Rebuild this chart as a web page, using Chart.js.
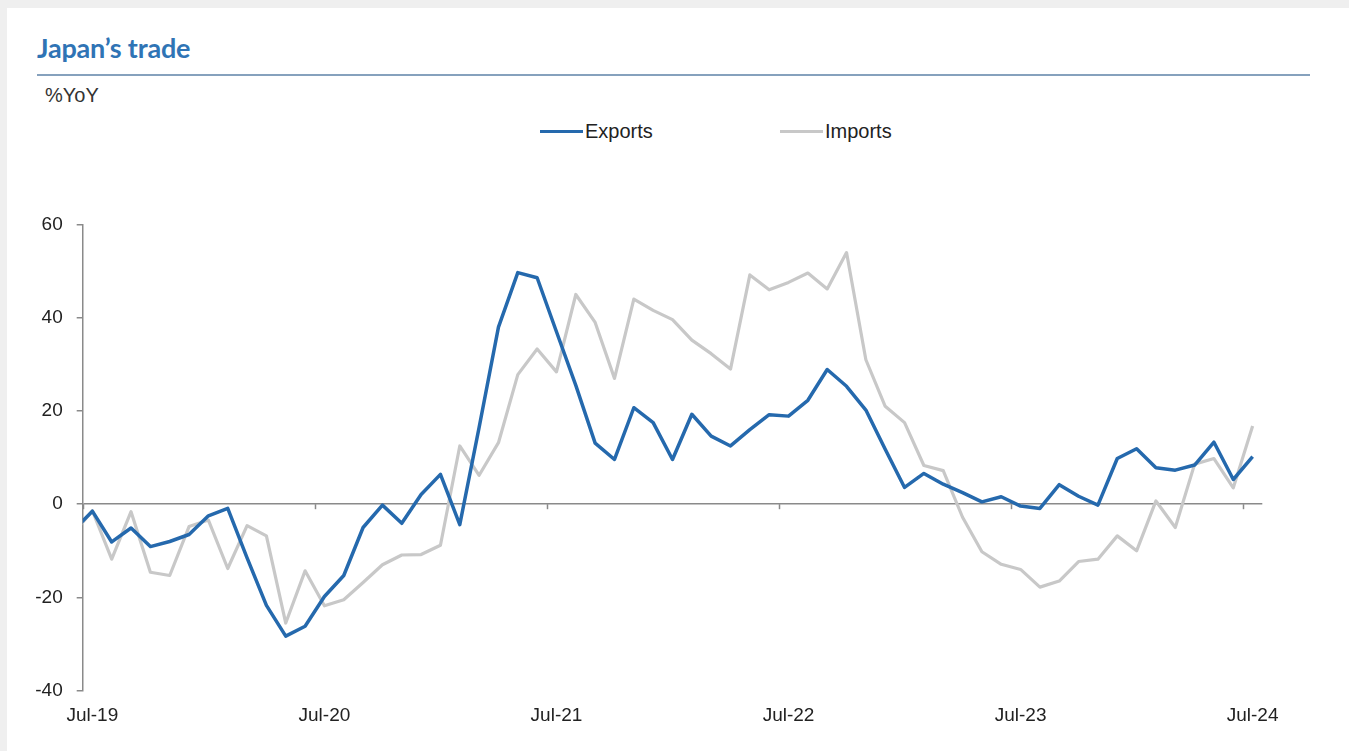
<!DOCTYPE html>
<html>
<head>
<meta charset="utf-8">
<script src="https://cdn.jsdelivr.net/npm/chart.js@4.4.1/dist/chart.umd.min.js"></script>
<style>
  html, body { margin: 0; padding: 0; }
  body { width: 1349px; height: 751px; background: #efefef; position: relative; overflow: hidden; font-family: "Liberation Sans", Arial, sans-serif; }
  #panel { position: absolute; left: 7px; top: 8px; right: 0; bottom: 0; background: #fff; }
  #title { position: absolute; left: 37px; top: 31px; font: 700 27px Lato, "Open Sans", sans-serif; color: #2f74b5; letter-spacing: -0.2px; }
  #rule { position: absolute; left: 37px; top: 74px; width: 1273px; border-top: 2px solid #86a1bd; }
  #unit { position: absolute; left: 45px; top: 84px; font-size: 20px; color: #333; }
  .leg { position: absolute; top: 120px; font-size: 20px; color: #222; display: flex; align-items: center; }
  .leg span.ln { display: inline-block; width: 43px; height: 3px; margin-right: 2px; }
  #chartBox { position: absolute; left: 0; top: 0; width: 1349px; height: 751px; }
</style>
</head>
<body>
<div id="panel"></div>
<div id="title">Japan’s trade</div>
<div id="rule"></div>
<div id="unit">%YoY</div>
<div class="leg" style="left:540px"><span class="ln" style="background:#2569ad"></span>Exports</div>
<div class="leg" style="left:780px"><span class="ln" style="background:#c8c8c8"></span>Imports</div>
<div id="chartBox"><canvas id="tradeChart"></canvas></div>
<script>
// months (Jun-19 is just outside the axis and gets clipped, like the original)
const meses = ['Jun-19', 'Jul-19', 'Aug-19', 'Sep-19', 'Oct-19', 'Nov-19', 'Dec-19',
  'Jan-20', 'Feb-20', 'Mar-20', 'Apr-20', 'May-20', 'Jun-20', 'Jul-20', 'Aug-20', 'Sep-20', 'Oct-20', 'Nov-20', 'Dec-20',
  'Jan-21', 'Feb-21', 'Mar-21', 'Apr-21', 'May-21', 'Jun-21', 'Jul-21', 'Aug-21', 'Sep-21', 'Oct-21', 'Nov-21', 'Dec-21',
  'Jan-22', 'Feb-22', 'Mar-22', 'Apr-22', 'May-22', 'Jun-22', 'Jul-22', 'Aug-22', 'Sep-22', 'Oct-22', 'Nov-22', 'Dec-22',
  'Jan-23', 'Feb-23', 'Mar-23', 'Apr-23', 'May-23', 'Jun-23', 'Jul-23', 'Aug-23', 'Sep-23', 'Oct-23', 'Nov-23', 'Dec-23',
  'Jan-24', 'Feb-24', 'Mar-24', 'Apr-24', 'May-24', 'Jun-24', 'Jul-24'];

const exportsYoY = [-5.7, -1.5, -8.1, -5.1, -9.1, -8.0, -6.5,
  -2.5, -0.9, -11.5, -21.7, -28.3, -26.2, -19.8, -15.3, -5.0, -0.2, -4.1, 2.1,
  6.4, -4.4, 16.5, 38.0, 49.7, 48.6, 37.0, 25.5, 13.1, 9.6, 20.7, 17.5,
  9.6, 19.3, 14.6, 12.5, 16.0, 19.2, 18.9, 22.3, 28.9, 25.3, 20.2, 11.8,
  3.6, 6.6, 4.3, 2.5, 0.5, 1.6, -0.4, -0.9, 4.2, 1.7, -0.2, 9.8,
  11.9, 7.8, 7.3, 8.4, 13.3, 5.3, 10.2];

const importsYoY = [-6.4, -1.4, -11.8, -1.6, -14.6, -15.3, -4.8,
  -3.4, -13.8, -4.6, -6.8, -25.5, -14.3, -21.8, -20.5, -16.8, -13.0, -10.9, -10.8,
  -8.8, 12.5, 6.2, 13.2, 27.8, 33.3, 28.4, 45.0, 39.0, 27.0, 44.0, 41.6,
  39.6, 35.2, 32.3, 29.0, 49.2, 46.0, 47.6, 49.6, 46.2, 54.0, 31.0, 21.0,
  17.5, 8.3, 7.2, -2.8, -10.2, -12.9, -14.0, -17.8, -16.5, -12.3, -11.8, -6.8,
  -10.0, 0.7, -5.0, 8.6, 9.8, 3.5, 16.8];

const rotulosX = ['Jul-19', 'Jul-20', 'Jul-21', 'Jul-22', 'Jul-23', 'Jul-24'];
const ticksY = [-40, -20, 0, 20, 40, 60];

const posRotulos = rotulosX.map(r => meses.indexOf(r));
const corEixo = '#8a8a8a';

// small tick marks hanging from the zero line, between months (Excel date axis style)
const zeroTicks = {
  id: 'zeroTicks',
  beforeDatasetsDraw(chart) {
    const { ctx, scales } = chart;
    const y0 = scales.y.getPixelForValue(0);
    ctx.save();
    ctx.strokeStyle = corEixo;
    ctx.lineWidth = 1.5;
    posRotulos.forEach(p => {
      const x = Math.round(scales.x.getPixelForValue(p - 0.5)) + 0.5;
      ctx.beginPath();
      ctx.moveTo(x, y0);
      ctx.lineTo(x, y0 + 5);
      ctx.stroke();
    });
    ctx.restore();
  }
};

const ctx = document.getElementById('tradeChart').getContext('2d');
const tradeChart = new Chart(ctx, {
  type: 'line',
  data: {
    datasets: [
      {
        label: 'Exports',
        data: exportsYoY.map((v, i) => ({ x: i, y: v })),
        borderColor: '#2569ad',
        borderWidth: 3.5,
        borderJoinStyle: 'round',
        pointRadius: 0,
        tension: 0,
        clip: 0,
        order: 1
      },
      {
        label: 'Imports',
        data: importsYoY.map((v, i) => ({ x: i, y: v })),
        borderColor: '#c8c8c8',
        borderWidth: 3.2,
        borderJoinStyle: 'round',
        pointRadius: 0,
        tension: 0,
        clip: 0,
        order: 2
      }
    ]
  },
  options: {
    responsive: true,
    maintainAspectRatio: false,
    animation: false,
    layout: { padding: { top: 224.6, right: 86.7, bottom: 20.4, left: 0 } },
    plugins: {
      legend: { display: false },
      tooltip: { enabled: false }
    },
    scales: {
      x: {
        type: 'linear',
        min: 0.5,
        max: 61.5,
        afterBuildTicks: (scale) => { scale.ticks = posRotulos.map(p => ({ value: p })); },
        afterFit: (scale) => { scale.height = 40; },
        grid: { display: false, drawTicks: false },
        border: { display: false },
        ticks: {
          autoSkip: false,
          maxRotation: 0,
          padding: 14,
          color: '#222',
          font: { family: '"Liberation Sans", Arial, sans-serif', size: 19 },
          callback: (value) => meses[value]
        }
      },
      y: {
        min: -40,
        max: 60,
        afterBuildTicks: (scale) => { scale.ticks = ticksY.map(v => ({ value: v })); },
        afterFit: (scale) => { scale.width = 82.7; },
        grid: {
          drawOnChartArea: true,
          drawTicks: true,
          tickLength: 6,
          lineWidth: 1.5,
          tickColor: corEixo,
          color: (c) => (c.tick && c.tick.value === 0 ? corEixo : 'rgba(0,0,0,0)')
        },
        border: { display: true, color: corEixo, width: 1.5 },
        ticks: {
          padding: 14,
          color: '#222',
          font: { family: '"Liberation Sans", Arial, sans-serif', size: 19 }
        }
      }
    }
  },
  plugins: [zeroTicks]
});
</script>
</body>
</html>
